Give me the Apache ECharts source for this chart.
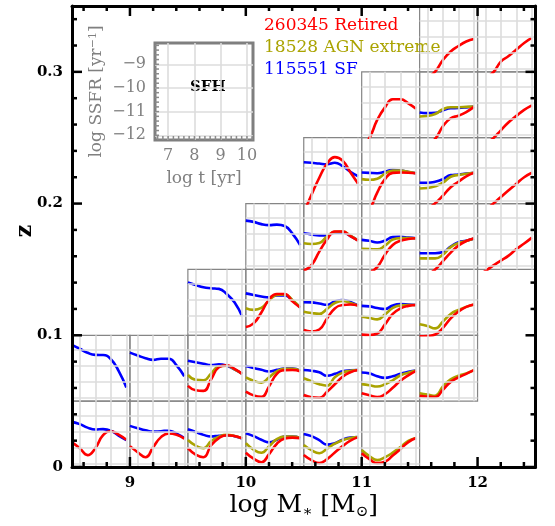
<!DOCTYPE html>
<html><head><meta charset="utf-8">
<script src="https://cdn.jsdelivr.net/npm/echarts@6/dist/echarts.min.js"></script>
<style>html,body{margin:0;padding:0;background:#fff}#c{width:555px;height:526px}#probe{position:absolute;left:-2000px;top:0;width:555px;height:526px}</style>
</head><body><div id="c"></div><div id="probe"></div>
<script>
// ---------------- data ----------------
const logT = [6.5, 7, 7.5, 8, 8.5, 9, 9.5, 10];
const massBinWidth = 0.5;
const zBinWidth = 0.05;
const cellMass = [8.5, 9.0, 9.5, 10.0, 10.5, 11.0,
                  8.5, 9.0, 9.5, 10.0, 10.5, 11.0, 11.5,
                  9.5, 10.0, 10.5, 11.0, 11.5,
                  10.0, 10.5, 11.0, 11.5, 12.0,
                  10.5, 11.0, 11.5, 12.0,
                  11.0, 11.5, 12.0,
                  11.5, 12.0];
const cellZ = [0, 0, 0, 0, 0, 0,
               0.05, 0.05, 0.05, 0.05, 0.05, 0.05, 0.05,
               0.10, 0.10, 0.10, 0.10, 0.10,
               0.15, 0.15, 0.15, 0.15, 0.15,
               0.20, 0.20, 0.20, 0.20,
               0.25, 0.25, 0.25,
               0.30, 0.30];
const sfSSFR = [
  [-9.39, -9.53, -9.75, -9.87, -9.84, -9.94, -10.25, -10.53],
  [-9.64, -9.78, -9.91, -10.0, -9.97, -9.94, -10.12, -10.40],
  [-9.85, -10.02, -10.20, -10.30, -10.25, -10.22, -10.28, -10.42],
  [-10.10, -10.28, -10.50, -10.67, -10.50, -10.31, -10.31, -10.39],
  [-10.14, -10.28, -10.53, -10.81, -10.72, -10.50, -10.37, -10.34],
  null,
  [-8.70, -8.94, -9.19, -9.32, -9.33, -9.59, -10.31, -11.35],
  [-9.18, -9.36, -9.53, -9.63, -9.56, -9.56, -9.97, -10.65],
  [-9.68, -9.78, -9.87, -9.95, -9.91, -10.0, -10.22, -10.50],
  [-10.01, -10.14, -10.25, -10.35, -10.25, -10.17, -10.17, -10.31],
  [-10.26, -10.31, -10.40, -10.62, -10.50, -10.34, -10.28, -10.26],
  [-10.42, -10.47, -10.65, -10.75, -10.65, -10.50, -10.37, -10.30],
  null,
  [-8.92, -9.07, -9.21, -9.27, -9.31, -9.63, -10.15, -11.03],
  [-9.59, -9.69, -9.78, -9.84, -9.72, -9.72, -10.03, -10.47],
  [-10.14, -10.15, -10.22, -10.30, -10.09, -10.0, -10.12, -10.34],
  [-10.37, -10.40, -10.50, -10.56, -10.34, -10.26, -10.28, -10.31],
  null,
  [-9.16, -9.24, -9.38, -9.44, -9.41, -9.50, -9.97, -10.68],
  [-9.95, -10.02, -10.08, -10.09, -9.91, -9.91, -10.12, -10.40],
  [-10.36, -10.42, -10.52, -10.40, -10.19, -10.17, -10.22, -10.26],
  [-11.19, -11.19, -11.19, -11.12, -10.78, -10.50, -10.42, -10.28],
  null,
  [-9.63, -9.66, -9.71, -9.75, -9.66, -9.87, -10.22, -10.50],
  [-10.27, -10.29, -10.31, -10.22, -10.10, -10.15, -10.23, -10.31],
  [-10.90, -10.90, -10.84, -10.68, -10.43, -10.39, -10.33, -10.28],
  null,
  null,
  [-10.63, -10.67, -10.65, -10.50, -10.37, -10.35, -10.31, -10.26],
  null,
  null,
  null
];
const agnSSFR = [
  null,
  null,
  [-10.52, -10.87, -11.03, -10.59, -10.31, -10.20, -10.27, -10.42],
  [-10.72, -11.12, -11.31, -10.90, -10.47, -10.31, -10.31, -10.39],
  [-10.83, -11.15, -11.34, -11.06, -10.75, -10.53, -10.40, -10.34],
  [-11.14, -11.52, -11.77, -11.59, -11.31, -10.96, -10.58, -10.40],
  null,
  null,
  [-10.57, -10.87, -10.90, -10.47, -10.03, -10.0, -10.22, -10.50],
  [-10.72, -10.93, -11.05, -10.72, -10.34, -10.19, -10.19, -10.31],
  [-10.78, -10.96, -11.15, -11.24, -10.72, -10.43, -10.31, -10.26],
  [-11.14, -11.21, -11.29, -11.15, -10.90, -10.59, -10.43, -10.30],
  [-11.71, -11.79, -11.86, -11.28, -10.84, -10.62, -10.47, -10.27],
  null,
  [-10.52, -10.62, -10.50, -10.03, -9.69, -9.66, -10.0, -10.47],
  [-10.73, -10.81, -10.86, -10.56, -10.19, -10.06, -10.19, -10.34],
  [-11.04, -11.12, -11.21, -10.90, -10.50, -10.34, -10.31, -10.31],
  [-11.51, -11.62, -11.77, -11.34, -10.87, -10.62, -10.43, -10.28],
  null,
  [-10.57, -10.62, -10.56, -10.15, -9.86, -9.84, -10.09, -10.40],
  [-10.92, -10.93, -10.95, -10.72, -10.34, -10.25, -10.25, -10.26],
  [-11.51, -11.51, -11.51, -11.28, -10.81, -10.56, -10.43, -10.28],
  null,
  null,
  [-10.68, -10.72, -10.65, -10.34, -10.15, -10.15, -10.22, -10.31],
  [-11.26, -11.23, -11.12, -10.90, -10.53, -10.42, -10.34, -10.28],
  null,
  null,
  [-10.88, -10.85, -10.72, -10.43, -10.30, -10.30, -10.28, -10.26],
  null,
  null,
  null
];
const retiredSSFR = [
  [-10.67, -11.03, -11.46, -11.03, -10.22, -9.97, -10.19, -10.50],
  [-10.90, -11.28, -11.59, -10.96, -10.34, -10.11, -10.19, -10.43],
  [-11.03, -11.43, -11.59, -10.84, -10.40, -10.22, -10.27, -10.42],
  [-11.31, -11.68, -11.90, -11.40, -10.75, -10.43, -10.37, -10.40],
  [-11.45, -11.77, -11.96, -11.71, -11.30, -10.90, -10.56, -10.34],
  [-11.34, -11.71, -11.96, -11.87, -11.49, -11.08, -10.65, -10.40],
  null,
  null,
  [-11.25, -11.52, -11.56, -10.84, -10.09, -9.97, -10.19, -10.50],
  [-11.61, -11.84, -11.93, -11.28, -10.50, -10.28, -10.26, -10.34],
  [-11.82, -11.96, -11.99, -11.62, -11.15, -10.68, -10.40, -10.26],
  [-11.71, -11.84, -11.95, -11.77, -11.37, -10.93, -10.59, -10.31],
  [-11.87, -11.92, -11.94, -11.49, -11.0, -10.72, -10.50, -10.27],
  null,
  [-11.68, -11.46, -10.78, -9.97, -9.63, -9.63, -10.09, -10.47],
  [-11.87, -11.96, -11.84, -11.15, -10.53, -10.31, -10.28, -10.34],
  [-12.16, -12.18, -12.09, -11.52, -10.87, -10.53, -10.37, -10.31],
  [-12.27, -12.24, -12.15, -11.74, -11.15, -10.72, -10.43, -10.28],
  null,
  [-12.27, -11.93, -11.09, -10.34, -9.84, -9.84, -10.12, -10.40],
  [-12.46, -12.37, -12.05, -11.28, -10.68, -10.42, -10.31, -10.26],
  [-12.77, -12.52, -12.21, -11.68, -11.15, -10.72, -10.43, -10.28],
  [-12.58, -12.30, -11.96, -11.65, -11.34, -10.93, -10.59, -10.22],
  [-12.77, -11.65, -10.59, -9.72, -9.31, -9.53, -10.25, -10.96],
  [-13.08, -12.58, -11.52, -10.68, -10.29, -10.27, -10.28, -10.31],
  [-12.83, -12.52, -12.18, -11.71, -11.18, -10.84, -10.50, -10.28],
  [-12.96, -12.58, -12.21, -11.79, -11.37, -10.96, -10.56, -10.28],
  [-12.77, -12.21, -11.09, -10.31, -9.81, -9.81, -10.06, -10.40],
  [-12.96, -12.58, -12.27, -11.49, -10.99, -10.83, -10.60, -10.28],
  [-12.96, -12.58, -12.24, -11.74, -11.24, -10.84, -10.47, -10.19],
  [-12.96, -12.58, -12.18, -11.46, -10.93, -10.59, -10.31, -10.15],
  [-12.96, -12.58, -12.24, -11.56, -11.21, -10.81, -10.40, -10.09]
];
const classNames = ['Retired', 'AGN extreme', 'SF'];
const classCounts = [260345, 18528, 115551];
const classColors = ['#ff0000', '#aaa300', '#0000ff'];
const xTickLabels = [9, 10, 11, 12];
const yTickLabels = [0, 0.1, 0.2, 0.3];
const insetXTicks = [7, 8, 9, 10];
const insetYTicks = [-12, -11, -10, -9];

// ---------------- helpers ----------------
const FONT = 'DejaVu Serif';
function steps(a, b, s) { const r = []; for (let v = a; v <= b + 1e-9; v += s) r.push(+v.toFixed(4)); return r; }
const notIn = list => v => !list.some(t => Math.abs(t - v) < 1e-6);
const xMinor = steps(8.6, 12.4, 0.2).filter(notIn(xTickLabels));
const yMinor = steps(0.02, 0.34, 0.02).filter(notIn(yTickLabels));
const insetXMinor = steps(6.6, 10.2, 0.2);
const insetYMinor = steps(-12.0, -8.2, 0.2);

const mainGridRect = { left: 72, top: 6, width: 463.5, height: 461 };
const insetGridRect = { left: 155, top: 43, width: 98, height: 97 };
const mainXRange = { min: 8.5, max: 12.5 };
const mainYRange = { min: 0, max: 0.35 };
const cellXRange = { min: 6.5, max: 10.23 };
const cellYRange = { min: -12.2, max: -8.1 };

// --- probe chart: main and inset axes only, to place cells and ticks through the library's scales ---
const probe = echarts.init(document.getElementById('probe'), null, { width: 555, height: 526 });
probe.setOption({
  animation: false,
  grid: [Object.assign({ show: false }, mainGridRect), Object.assign({ show: false }, insetGridRect)],
  xAxis: [Object.assign({ type: 'value', gridIndex: 0 }, mainXRange), Object.assign({ type: 'value', gridIndex: 1 }, cellXRange)],
  yAxis: [Object.assign({ type: 'value', gridIndex: 0 }, mainYRange), Object.assign({ type: 'value', gridIndex: 1 }, cellYRange)],
  series: []
});
const toMain = p => probe.convertToPixel({ xAxisIndex: 0, yAxisIndex: 0 }, p);
const toInset = p => probe.convertToPixel({ xAxisIndex: 1, yAxisIndex: 1 }, p);
const cellRects = cellMass.map((m, i) => {
  const tl = toMain([m, cellZ[i] + zBinWidth]);
  const br = toMain([m + massBinWidth, cellZ[i]]);
  return { left: tl[0], top: tl[1], width: br[0] - tl[0], height: br[1] - tl[1] };
});
const tickGraphics = [];
function tickLine(p, dx, dy, color, w) {
  tickGraphics.push({ type: 'line', silent: true, z: 100,
    shape: { x1: p[0], y1: p[1], x2: p[0] + dx, y2: p[1] + dy },
    style: { stroke: color, lineWidth: w } });
}
[[xTickLabels, 10], [xMinor, 5]].forEach(([vals, len]) => vals.forEach(v => {
  tickLine(toMain([v, mainYRange.min]), 0, -len, '#000', 2.5);
  tickLine(toMain([v, mainYRange.max]), 0, len, '#000', 2.5);
}));
[[yTickLabels, 10], [yMinor, 5]].forEach(([vals, len]) => vals.forEach(v => {
  tickLine(toMain([mainXRange.min, v]), len, 0, '#000', 2.5);
  tickLine(toMain([mainXRange.max, v]), -len, 0, '#000', 2.5);
}));
insetXMinor.forEach(v => tickLine(toInset([v, cellYRange.min]), 0, -4, '#8a8a8a', 1.5));
insetYMinor.forEach(v => tickLine(toInset([cellXRange.min, v]), 4, 0, '#8a8a8a', 1.5));
probe.dispose();

function frameAxis(dim, pos, labels) {
  const isX = dim === 'x';
  return Object.assign({
    type: 'value', gridIndex: 0, position: pos, z: 10,
    axisLine: { show: true, onZero: false, lineStyle: { color: '#000', width: 3 } },
    axisTick: { show: false },
    axisLabel: labels ? { show: true, customValues: isX ? xTickLabels : yTickLabels, margin: 9, color: '#000',
      fontFamily: FONT, fontWeight: 'bold', fontSize: 15 } : { show: false },
    splitLine: { show: false }
  }, isX ? mainXRange : mainYRange);
}

const grids = [
  Object.assign({ show: false }, mainGridRect),
  Object.assign({ show: true, borderColor: '#7f7f7f', borderWidth: 3 }, insetGridRect)
];
const xAxes = [
  Object.assign(frameAxis('x', 'bottom', true), {
    name: 'log M{s|∗} [M{s|⊙}]', nameLocation: 'middle', nameGap: 23, nameMoveOverlap: false,
    nameTextStyle: { color: '#000', fontFamily: FONT, fontSize: 25, lineHeight: 30,
      rich: { s: { fontFamily: FONT, fontSize: 15, lineHeight: 15, verticalAlign: 'bottom', color: '#000' } } }
  }),
  frameAxis('x', 'top', false),
  Object.assign({ type: 'value', gridIndex: 1,
    axisLine: { show: false }, axisTick: { show: false },
    axisLabel: { show: true, customValues: insetXTicks, margin: 8, color: '#808080', fontFamily: FONT, fontSize: 16 },
    splitLine: { show: false },
    name: 'log t [yr]', nameLocation: 'middle', nameGap: 30,
    nameTextStyle: { color: '#808080', fontFamily: FONT, fontSize: 17 } }, cellXRange)
];
const yAxes = [
  frameAxis('y', 'left', true),
  frameAxis('y', 'right', false),
  Object.assign({ type: 'value', gridIndex: 1,
    axisLine: { show: false }, axisTick: { show: false },
    axisLabel: { show: true, customValues: insetYTicks, margin: 9, color: '#808080', fontFamily: FONT, fontSize: 16,
      formatter: v => '\u2212' + Math.abs(v) },
    splitLine: { show: false },
    name: 'log SSFR [yr{sup|\u22121}]', nameLocation: 'middle', nameGap: 50, nameRotate: 90,
    nameTextStyle: { color: '#808080', fontFamily: FONT, fontSize: 17,
      rich: { sup: { fontFamily: FONT, fontSize: 11, verticalAlign: 'top', color: '#808080' } } } }, cellYRange)
];

function gridLineSeries(xi, yi) {
  return {
    type: 'line', xAxisIndex: xi, yAxisIndex: yi, data: [], silent: true, z: 1,
    markLine: {
      silent: true, symbol: 'none', animation: false, label: { show: false },
      emphasis: { disabled: true },
      lineStyle: { color: '#dcdcdc', width: 1.6, type: 'solid' },
      data: insetXTicks.map(v => ({ xAxis: v })).concat(insetYTicks.map(v => ({ yAxis: v })))
    }
  };
}
const series = [gridLineSeries(2, 2)];

const classArrays = [['SF', sfSSFR, classColors[2]], ['AGN extreme', agnSSFR, classColors[1]], ['Retired', retiredSSFR, classColors[0]]];
cellRects.forEach((r, i) => {
  const gi = grids.length;
  grids.push(Object.assign({ show: true, borderColor: '#858585', borderWidth: 1.2 }, r));
  const xi = xAxes.length, yi = yAxes.length;
  xAxes.push(Object.assign({ type: 'value', gridIndex: gi, show: false }, cellXRange));
  yAxes.push(Object.assign({ type: 'value', gridIndex: gi, show: false }, cellYRange));
  series.push(gridLineSeries(xi, yi));
  classArrays.forEach(([name, arr, col]) => {
    if (!arr[i]) return;
    series.push({ type: 'line', name: name, xAxisIndex: xi, yAxisIndex: yi,
      data: logT.map((t, k) => [t, arr[i][k]]), smooth: 0.5, symbol: 'none', showSymbol: false,
      clip: true, silent: true, z: 3,
      lineStyle: { color: col, width: 2.6 }, itemStyle: { color: col } });
  });
});

const chart = echarts.init(document.getElementById('c'));
chart.setOption({
  animation: false,
  backgroundColor: '#fff',
  grid: grids, xAxis: xAxes, yAxis: yAxes, series: series,
  legend: {
    left: 253, top: 12, orient: 'vertical', itemWidth: 0, itemHeight: 0, itemGap: 5,
    selectedMode: false,
    data: classNames.map((n, k) => ({ name: n, textStyle: { color: classColors[k] } })),
    formatter: n => classCounts[classNames.indexOf(n)] + ' ' + n,
    textStyle: { fontFamily: FONT, fontSize: 17 }
  },
  graphic: [
    { type: 'text', left: 190, top: 80, silent: true,
      style: { text: 'SFH', fill: '#000', font: 'bold 15px "DejaVu Serif"' } },
    { type: 'text', x: 25, y: 231, rotation: Math.PI / 2, silent: true,
      style: { text: 'z', fill: '#000', font: 'bold 22px "DejaVu Serif"', align: 'center', verticalAlign: 'middle' } }
  ].concat(tickGraphics)
});
</script></body></html>
